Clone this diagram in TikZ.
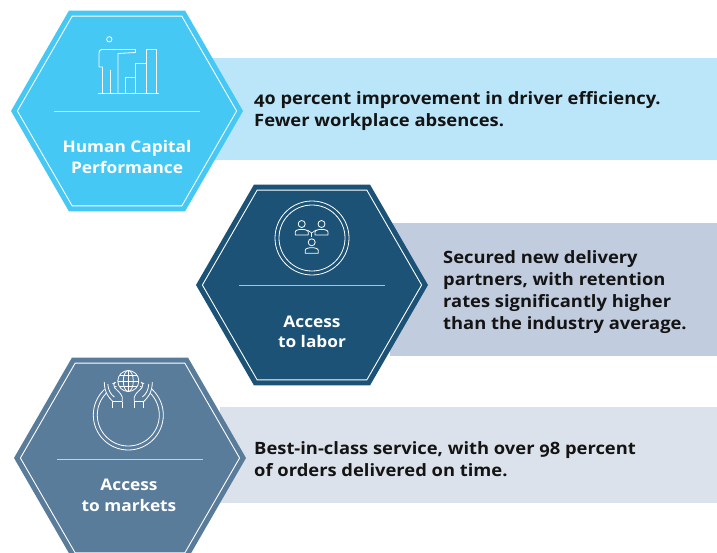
\documentclass[tikz,border=0pt]{standalone}
\usepackage{fontspec}
\setmainfont{Open Sans}[Numbers=OldStyle, FakeStretch=1.08]
\definecolor{hexA}{RGB}{70,200,245}
\definecolor{bandA}{RGB}{187,229,248}
\definecolor{hexB}{RGB}{27,82,118}
\definecolor{bandB}{RGB}{194,204,223}
\definecolor{hexC}{RGB}{90,124,155}
\definecolor{bandC}{RGB}{220,226,235}
\definecolor{bodytext}{RGB}{20,20,20}
\tikzset{
  hexfill/.pic={\path[pic actions] (116,0) -- (58,100.46) -- (-58,100.46) -- (-116,0) -- (-58,-100.46) -- (58,-100.46) -- cycle;},
  hexrim/.pic={\path[pic actions] (109.6,0) -- (54.8,94.92) -- (-54.8,94.92) -- (-109.6,0) -- (-54.8,-94.92) -- (54.8,-94.92) -- cycle;},
  rimline/.style={draw=white, line width=0.9pt},
  sepline/.style={draw=white, draw opacity=0.65, line width=1pt},
  icon/.style={draw=white, line width=0.8pt},
  titletext/.style={text=white, font=\fontsize{16}{20.5}\selectfont\bfseries, align=center, inner sep=0pt},
  bodytxt/.style={text=bodytext, font=\fontsize{17}{22}\selectfont\bfseries, align=left, anchor=west, inner sep=0pt},
}
\begin{document}
\begin{tikzpicture}[x=1pt,y=-1pt]
\useasboundingbox (0,0) rectangle (717,552);
\clip (0,0) rectangle (717,552);
\fill[white] (0,0) rectangle (717,552);

% bands
\fill[bandA] (212,58) rectangle (717,160);
\fill[bandB] (390,223) rectangle (717,356);
\fill[bandC] (220,407) rectangle (717,503);

% hexagons
\pic[fill=hexA] at (127,111) {hexfill};
\pic[rimline] at (127,111) {hexrim};
\pic[fill=hexB] at (312,285) {hexfill};
\pic[rimline] at (312,285) {hexrim};
\pic[fill=hexC] at (130,458) {hexfill};
\pic[rimline] at (130,458) {hexrim};

% separators
\draw[sepline] (54,111) -- (200,111);
\draw[sepline] (239,285) -- (385,285);
\draw[sepline] (57,459) -- (203,459);

% icon 1: person with bar chart
\draw[icon] (109.3,39.3) circle (2.7);
\draw[icon, line join=round] (102.5,93.3) -- (102.5,67) -- (99,67) -- (99,53) .. controls (99,50.5) and (100,49.5) .. (102,49.5) -- (135.5,49.5) -- (135.5,52.5) -- (118,53.5) -- (118,93.3);
\draw[icon] (110.3,70) -- (110.3,93.3);
\draw[icon] (125.7,93.3) rectangle (135,77.3);
\draw[icon] (135,93.3) rectangle (146,63.3);
\draw[icon] (146,93.3) rectangle (156,49.3);
\draw[icon] (98,93.3) -- (159,93.3);

% icon 2: three persons in circle
\draw[icon] (312,238) circle (37);
\draw[icon] (312,238) circle (33);
\foreach \px/\py in {301.7/224, 321.5/224, 311.7/242.3}{
  \draw[icon] (\px,\py) circle (3.5);
  \draw[icon, line join=round] (\px-6.5,\py+11) -- (\px-6.5,\py+8) .. controls (\px-6.5,\py+4.5) and (\px+6.5,\py+4.5) .. (\px+6.5,\py+8) -- (\px+6.5,\py+11) -- cycle;
}
\draw[icon, line width=0.6pt] (307.5,230) -- (311.7,233) -- (316,230);
\draw[icon, line width=0.6pt] (311.7,233) -- (311.7,236.5);

% icon 3: globe in hands in circle
\draw[icon] (128.3,415) circle (35);
\draw[icon] (128.3,415) circle (31);
\fill[hexC] (128.3,381) circle (13);
\draw[icon] (128.3,381) circle (10.5);
\draw[icon] (128.3,381) ellipse (5 and 10.5);
\draw[icon] (128.3,370.5) -- (128.3,391.5);
\draw[icon] (117.8,381) -- (138.8,381);
\draw[icon] (119.5,375.5) -- (137.1,375.5);
\draw[icon] (119.5,386.5) -- (137.1,386.5);
\foreach \s in {1,-1}{
  \begin{scope}[shift={(128.3,0)}, xscale=\s]
    \fill[hexC] (-25,383) .. controls (-24,393) and (-19,398) .. (-15.5,401.5) -- (-6,401.5) -- (-6,397) .. controls (-8,392) and (-12,390) .. (-14,387) -- (-17,382) -- cycle;
    \draw[icon, line join=round] (-24,382) .. controls (-24,393) and (-19,398) .. (-15.5,401.5) -- (-6,401.5) -- (-6,397) .. controls (-8,392) and (-11,391) .. (-13.5,388) .. controls (-15,386) and (-15,383) .. (-13,382);
    \draw[icon] (-20.5,384) .. controls (-20,390) and (-18,394) .. (-14,397);
    \draw[icon] (-15.5,401.5) -- (-15.5,407.5);
    \draw[icon] (-6,401.5) -- (-6,407.5);
  \end{scope}
}

% hexagon titles
\node[titletext] (t1) at (127,157) {Human Capital\\Performance};
\node[titletext] (t2) at (312,332) {Access\\to labor};
\node[titletext] (t3) at (129,495.5) {Access\\to markets};

% band texts
\node[bodytxt] (b1) at (254,111.2) {40 percent improvement in driver efficiency.\\Fewer workplace absences.};
\node[bodytxt] (b2) at (443,292.5) {Secured new delivery\\partners, with retention\\rates significantly higher\\than the industry average.};
\node[bodytxt] (b3) at (254,459.5) {Best-in-class service, with over 98 percent\\of orders delivered on time.};
\end{tikzpicture}
\end{document}
